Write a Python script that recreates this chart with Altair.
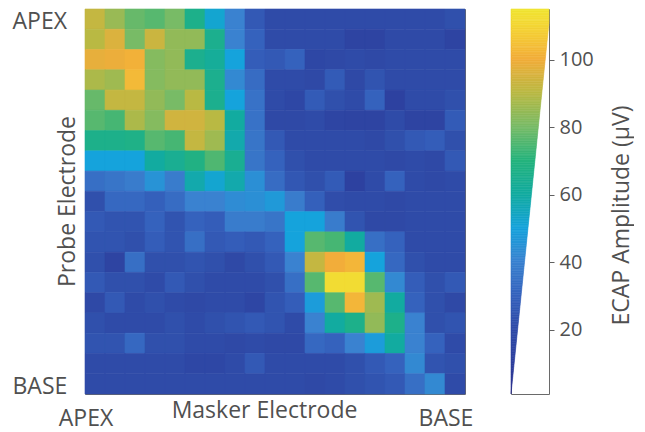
import altair as alt
import pandas as pd

# Electrodes 1 (APEX) .. 19 (BASE)
masker_electrodes = list(range(1, 20))
probe_electrodes = list(range(1, 20))

# ECAP amplitude (uV); one list per probe electrode (row), masker electrodes left->right
r01 = [92, 85, 78, 76, 80, 66, 52, 40, 26, 20, 20, 20, 20, 20, 20, 20, 20, 20, 22]
r02 = [90, 96, 80, 93, 84, 84, 65, 40, 30, 20, 20, 20, 20, 14, 14, 19, 19, 19, 14]
r03 = [98, 99, 101, 82, 84, 65, 62, 50, 28, 26, 30, 17, 18, 20, 18, 20, 20, 20, 20]
r04 = [88, 86, 103, 82, 84, 84, 65, 42, 33, 20, 20, 18, 27, 18, 24, 20, 20, 20, 20]
r05 = [78, 92, 92, 84, 80, 90, 65, 50, 35, 20, 17, 27, 22, 20, 30, 12, 20, 20, 22]
r06 = [76, 74, 88, 82, 94, 94, 90, 60, 35, 18, 18, 20, 15, 14, 14, 20, 14, 14, 27]
r07 = [66, 66, 67, 76, 74, 92, 86, 58, 36, 26, 20, 20, 20, 20, 18, 22, 26, 28, 22]
r08 = [50, 50, 50, 60, 64, 68, 75, 64, 36, 30, 22, 20, 20, 20, 20, 18, 20, 18, 26]
r09 = [34, 36, 38, 45, 38, 58, 52, 58, 44, 33, 25, 22, 27, 12, 20, 30, 20, 18, 20]
r10 = [22, 32, 32, 29, 33, 40, 40, 43, 44, 47, 38, 29, 21, 20, 20, 18, 20, 20, 20]
r11 = [26, 24, 24, 30, 24, 30, 28, 38, 38, 36, 50, 50, 38, 24, 18, 18, 20, 20, 20]
r12 = [24, 24, 22, 28, 24, 34, 26, 28, 26, 30, 50, 76, 74, 60, 34, 30, 20, 20, 20]
r13 = [22, 14, 34, 22, 22, 24, 22, 18, 22, 26, 40, 92, 100, 102, 50, 32, 22, 20, 20]
r14 = [26, 22, 22, 20, 26, 22, 20, 20, 20, 22, 34, 76, 112, 112, 76, 42, 28, 22, 26]
r15 = [18, 26, 20, 22, 20, 18, 20, 20, 16, 24, 28, 48, 76, 102, 86, 60, 30, 22, 18]
r16 = [22, 20, 20, 20, 22, 20, 22, 24, 26, 24, 20, 40, 60, 66, 84, 66, 40, 22, 24]
r17 = [24, 24, 32, 22, 22, 20, 20, 18, 20, 18, 18, 32, 30, 40, 48, 60, 40, 30, 20]
r18 = [20, 20, 20, 20, 20, 17, 17, 20, 26, 20, 20, 20, 20, 22, 26, 30, 42, 24, 22]
r19 = [20, 20, 20, 20, 20, 20, 20, 20, 20, 20, 20, 18, 20, 22, 24, 26, 34, 42, 20]
rows = [r01, r02, r03, r04, r05, r06, r07, r08, r09, r10,
        r11, r12, r13, r14, r15, r16, r17, r18, r19]

# colour bar
cbar_ticks = [20, 40, 60, 80, 100]
cbar_min, cbar_max = 1, 115
cmap_stops = [1, 10, 20, 30, 40, 50, 60, 70, 80, 90, 100, 108, 115]
cmap_colors = ["#2b2f8f", "#2d3f9e", "#2f4ba8", "#3562bd", "#3a82d0", "#15a3dc",
               "#12aba0", "#25b37c", "#78bb66", "#b9b943", "#f2ad3a", "#f5cf35", "#f0e632"]

records = []
for p, row in zip(probe_electrodes, rows):
    for m, v in zip(masker_electrodes, row):
        records.append({"masker": m, "probe": p, "amp": v})
df = pd.DataFrame(records)

step = 0.5
cb = []
v = cbar_min
while v < cbar_max - 1e-9:
    cb.append({"v": v, "v2": v + step, "x0": 0.0,
               "w": min(1.0, (v + step / 2 - cbar_min) / (111 - cbar_min))})
    v += step
cbdf = pd.DataFrame(cb)

FONT = "Open Sans"
TXT = "#505050"

color_scale = alt.Scale(domain=cmap_stops, range=cmap_colors, interpolate="rgb")

heat = alt.Chart(df).mark_rect(strokeWidth=0.6).encode(
    x=alt.X("masker:O", scale=alt.Scale(paddingInner=0, paddingOuter=0),
            axis=alt.Axis(title="Masker Electrode",
                          labelExpr="datum.value == 1 ? 'APEX' : (datum.value == 19 ? 'BASE' : '')",
                          ticks=False, tickSize=0, domain=False, grid=False, labelAngle=0,
                          labelOverlap=False, labelPadding=24, labelBaseline="middle",
                          labelOffset=-9, labelFontSize=23,
                          titleX=179, titleY=16, titleBaseline="middle", titleAlign="center",
                          titleFontSize=23)),
    y=alt.Y("probe:O", scale=alt.Scale(paddingInner=0, paddingOuter=0),
            axis=alt.Axis(title="Probe Electrode",
                          labelExpr="datum.value == 1 ? 'APEX' : (datum.value == 19 ? 'BASE' : '')",
                          ticks=False, tickSize=0, domain=False, grid=False,
                          labelOverlap=False, labelAlign="left", labelPadding=73,
                          labelBaseline="middle", labelFontSize=23, labelOffset=3,
                          titleAngle=270, titleX=-18, titleY=192, titleAlign="center",
                          titleBaseline="middle", titleFontSize=23)),
    color=alt.Color("amp:Q", scale=color_scale, legend=None),
    stroke=alt.Stroke("amp:Q", scale=color_scale, legend=None),
).properties(width=380, height=385)

cbar = alt.Chart(cbdf).mark_rect(strokeWidth=0.6).encode(
    x=alt.X("x0:Q", scale=alt.Scale(domain=[0, 1], nice=False, zero=False), axis=None),
    x2="w:Q",
    y=alt.Y("v:Q", scale=alt.Scale(domain=[cbar_min, cbar_max], nice=False, zero=False),
            axis=alt.Axis(orient="right", values=cbar_ticks, tickSize=5, tickColor="#606060",
                          domain=False, grid=False, labelPadding=5, labelFontSize=20,
                          title="ECAP Amplitude  (\u03bcV)", titleAngle=270,
                          titleX=72, titleY=206, titleAlign="center", titleBaseline="middle",
                          titleFontSize=23)),
    y2="v2:Q",
    color=alt.Color("v:Q", scale=color_scale, legend=None),
    stroke=alt.Stroke("v:Q", scale=color_scale, legend=None),
).properties(width=38, height=385)

chart = alt.hconcat(heat, cbar, spacing=46, bounds="flush").resolve_scale(
    color="independent", stroke="independent"
).properties(
    padding={"left": 3, "top": 0, "right": 0, "bottom": 0}
).configure_view(
    stroke="#6a6a6a", strokeWidth=1
).configure_axis(
    labelFont=FONT, titleFont=FONT, labelColor=TXT, titleColor=TXT,
    titleFontWeight="normal"
)

chart.save("out.html", embed_options={"renderer": "svg", "actions": False})
